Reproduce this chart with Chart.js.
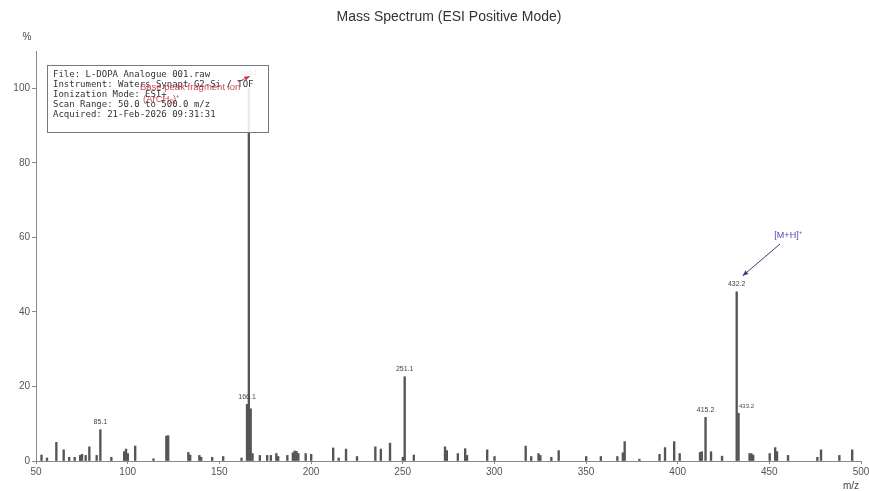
<!DOCTYPE html>
<html>
<head>
<meta charset="utf-8">
<title>Mass Spectrum</title>
<script src="https://cdn.jsdelivr.net/npm/chart.js@4.4.1/dist/chart.umd.min.js"></script>
<style>
  html, body { margin: 0; padding: 0; background: #fff; }
</style>
</head>
<body>
<canvas id="ms-chart" width="869" height="491"></canvas>
<script>
// peak list (m/z, relative intensity %)
const mzValues = [
  53.0, 56.0, 61.1, 65.1, 68.1, 71.1, 74.1, 75.1, 77.1, 79.1, 83.1, 85.1, 91.1,
  98.1, 99.1, 100.1, 104.1, 114.1, 121.1, 122.1, 133.1, 134.1, 139.1, 140.1, 146.1,
  152.1, 162.1, 165.1, 166.1, 167.1, 168.1, 172.1, 176.1, 178.1, 181.1, 182.1, 187.1,
  190.1, 191.1, 192.1, 193.1, 197.1, 200.1, 212.1, 215.1, 219.1, 225.1, 235.1, 238.1,
  243.1, 250.1, 251.1, 256.1, 273.1, 274.1, 280.1, 284.1, 285.1, 296.1, 300.1, 317.1,
  320.1, 324.1, 325.1, 331.1, 335.1, 350.1, 358.1, 367.1, 370.1, 371.1, 379.1, 390.1,
  393.1, 398.1, 401.1, 412.2, 413.2, 415.2, 418.2, 424.2, 432.2, 433.2, 439.2, 440.2,
  441.2, 450.2, 453.2, 454.2, 460.2, 476.2, 478.2, 488.2, 495.2
];
const intensities = [
  1.6, 0.8, 5.0, 3.0, 1.0, 1.0, 1.5, 1.8, 1.5, 3.8, 1.5, 8.4, 1.0,
  2.5, 3.2, 2.0, 4.0, 0.6, 6.7, 6.8, 2.3, 1.6, 1.5, 1.0, 1.0,
  1.2, 0.8, 15.2, 100, 14.0, 2.0, 1.5, 1.5, 1.5, 2.0, 1.2, 1.5,
  2.2, 2.7, 2.6, 2.0, 2.0, 1.8, 3.5, 0.8, 3.2, 1.2, 3.8, 3.2,
  4.8, 1.0, 22.6, 1.6, 3.8, 2.8, 2.0, 3.3, 1.5, 3.0, 1.2, 4.0,
  1.2, 2.0, 1.5, 1.0, 2.8, 1.2, 1.2, 1.2, 2.2, 5.2, 0.5, 1.8,
  3.6, 5.2, 2.0, 2.3, 2.5, 11.7, 2.5, 1.3, 45.4, 12.8, 2.0, 2.0,
  1.6, 2.0, 3.6, 2.5, 1.5, 1.0, 3.0, 1.5, 3.0
];

// labelled peaks: which m/z gets a text label, and the text
const labelledMz = [85.1, 165.1, 251.1, 415.2, 432.2];
const labelTexts = ["85.1", "166.1", "251.1", "415.2", "432.2"];
const smallLabelMz = [433.2];
const smallLabelTexts = ["433.2"];
const basePeakMz = 166.1;

const xTicks = [50, 100, 150, 200, 250, 300, 350, 400, 450, 500];
const yTicks = [0, 20, 40, 60, 80, 100];

const infoLines = [
  "File: L-DOPA Analogue 001.raw",
  "Instrument: Waters Synapt G2-Si / TOF",
  "Ionization Mode: ESI+",
  "Scan Range: 50.0 to 500.0 m/z",
  "Acquired: 21-Feb-2026 09:31:31"
];

const titleText = "Mass Spectrum (ESI Positive Mode)";

function drawArrow(ctx, x1, y1, x2, y2, color) {
  const ang = Math.atan2(y2 - y1, x2 - x1);
  ctx.save();
  ctx.strokeStyle = color;
  ctx.fillStyle = color;
  ctx.lineWidth = 1;
  ctx.beginPath();
  ctx.moveTo(x1, y1);
  ctx.lineTo(x2, y2);
  ctx.stroke();
  ctx.beginPath();
  ctx.moveTo(x2, y2);
  ctx.lineTo(x2 - 6 * Math.cos(ang - 0.4), y2 - 6 * Math.sin(ang - 0.4));
  ctx.lineTo(x2 - 6 * Math.cos(ang + 0.4), y2 - 6 * Math.sin(ang + 0.4));
  ctx.closePath();
  ctx.fill();
  ctx.restore();
}

const overlay = {
  id: "overlay",
  afterDraw(chart) {
    const ctx = chart.ctx;
    const xs = chart.scales.x;
    const ys = chart.scales.y;
    ctx.save();

    // title and axis captions
    ctx.fillStyle = "#333";
    ctx.textAlign = "center";
    ctx.textBaseline = "middle";
    ctx.font = "14px 'Liberation Sans', Arial, sans-serif";
    ctx.fillText(titleText, 449, 17);
    ctx.font = "10px 'Liberation Sans', Arial, sans-serif";
    ctx.fillStyle = "#444";
    ctx.fillText("%", 27, 37);
    ctx.fillText("m/z", 851, 486);

    // peak labels
    ctx.textBaseline = "bottom";
    ctx.font = "7px 'Liberation Sans', Arial, sans-serif";
    ctx.fillStyle = "#444";
    labelledMz.forEach((mz, i) => {
      const idx = mzValues.indexOf(mz);
      ctx.fillText(labelTexts[i], xs.getPixelForValue(mz), ys.getPixelForValue(intensities[idx]) - 4);
    });
    ctx.font = "6px 'Liberation Sans', Arial, sans-serif";
    smallLabelMz.forEach((mz, i) => {
      const idx = mzValues.indexOf(mz);
      ctx.fillText(smallLabelTexts[i], xs.getPixelForValue(mz) + 8, ys.getPixelForValue(intensities[idx]) - 4);
    });
    // base peak label, sits under the info box
    ctx.font = "7px 'Liberation Sans', Arial, sans-serif";
    ctx.fillText("166.1", xs.getPixelForValue(basePeakMz), ys.getPixelForValue(100) - 12);

    // info box
    ctx.fillStyle = "rgba(255,255,255,0.88)";
    ctx.fillRect(47.5, 65.5, 221, 67);
    ctx.strokeStyle = "#777";
    ctx.lineWidth = 1;
    ctx.strokeRect(47.5, 65.5, 221, 67);
    ctx.fillStyle = "#333";
    ctx.textAlign = "left";
    ctx.textBaseline = "middle";
    ctx.font = "9px 'DejaVu Sans Mono', monospace";
    infoLines.forEach((line, i) => {
      ctx.fillText(line, 53, 75 + i * 10);
    });

    // red base-peak annotation
    ctx.fillStyle = "rgba(192,40,60,0.85)";
    ctx.font = "9.5px 'Liberation Sans', Arial, sans-serif";
    ctx.fillText("Base peak fragment ion", 140, 87);
    ctx.fillText("(ArCH\u2082)\u207A", 143, 99);
    drawArrow(ctx, 238, 82, xs.getPixelForValue(basePeakMz) + 1, ys.getPixelForValue(100) - 12, "rgba(192,40,60,0.85)");

    // [M+H]+ annotation
    const mx = xs.getPixelForValue(432.2);
    const my = ys.getPixelForValue(45.4);
    ctx.textAlign = "center";
    ctx.fillStyle = "#4a4aa8";
    ctx.font = "9px 'Liberation Sans', Arial, sans-serif";
    ctx.fillText("[M+H]\u207A", 788, 236);
    drawArrow(ctx, 780, 244, mx + 6, my - 16, "#3c3c78");

    ctx.restore();
  }
};

const ctx = document.getElementById("ms-chart").getContext("2d");
new Chart(ctx, {
  type: "bar",
  data: {
    datasets: [
      {
        data: mzValues.map((m, i) => ({ x: m, y: intensities[i] })),
        backgroundColor: "#555",
        barThickness: 1.7,
      },
    ],
  },
  options: {
    responsive: false,
    animation: false,
    devicePixelRatio: 1,
    layout: { padding: { top: 51, right: 8, left: 0, bottom: 0 } },
    plugins: {
      legend: { display: false },
      tooltip: { enabled: false },
    },
    scales: {
      x: {
        type: "linear",
        min: 50,
        max: 500,
        offset: false,
        afterBuildTicks: (s) => { s.ticks = xTicks.map((v) => ({ value: v })); },
        afterFit: (s) => { s.height = 30; s.paddingRight = 0; },
        grid: { offset: false, drawOnChartArea: false, drawTicks: true, tickLength: 3, color: "#888" },
        border: { color: "#888" },
        ticks: { autoSkip: false, maxRotation: 0, color: "#555", padding: 2,
                 font: { family: "'Liberation Sans', Arial, sans-serif", size: 10 } },
      },
      y: {
        min: 0,
        max: 110,
        afterBuildTicks: (s) => { s.ticks = yTicks.map((v) => ({ value: v })); },
        afterFit: (s) => { s.width = 36; },
        grid: { drawOnChartArea: false, drawTicks: true, tickLength: 4, color: "#888" },
        border: { color: "#888" },
        ticks: { color: "#555", padding: 2,
                 font: { family: "'Liberation Sans', Arial, sans-serif", size: 10 } },
      },
    },
  },
  plugins: [overlay],
});
</script>
</body>
</html>
